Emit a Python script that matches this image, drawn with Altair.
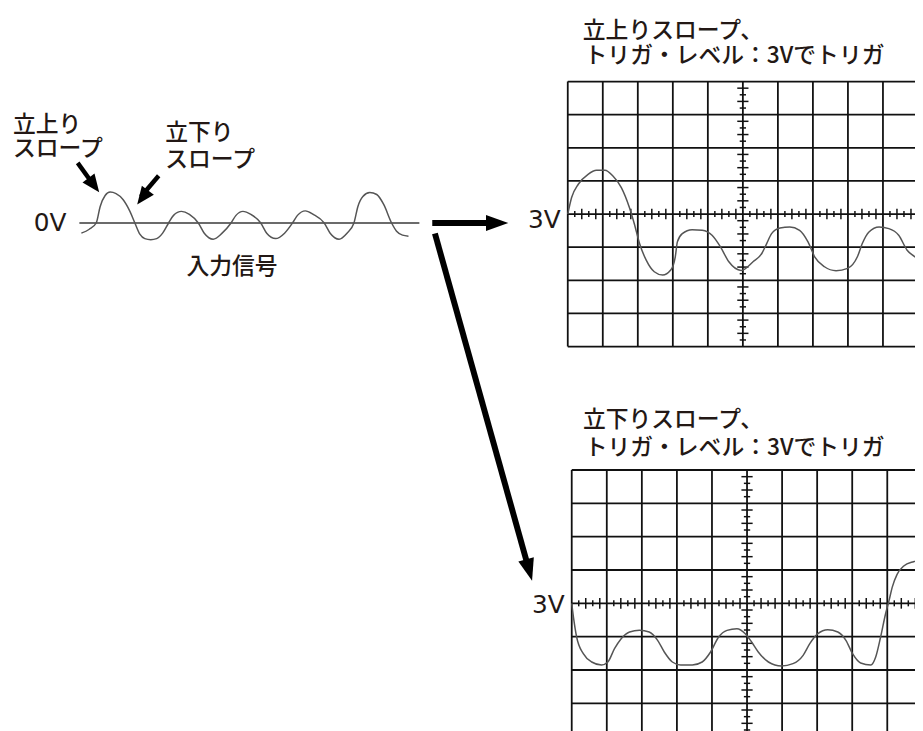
import altair as alt
import pandas as pd

# ---------------- values ----------------
# Input signal (left): time in arbitrary units, level in volts (0 V = baseline)
in_t = [0.2, 1.0, 1.7, 2.1, 2.6, 3.1, 3.7, 4.4, 5.1, 5.6, 6.1, 6.6, 7.2, 7.8, 8.4,
        9.0, 9.5, 10.3, 11.1, 12.0, 12.6, 13.5, 14.4, 15.3, 15.8, 16.5, 17.3, 18.3,
        18.9, 19.8, 20.7, 21.5, 22.0, 22.8, 23.6, 24.7, 25.3, 26.2, 27.0, 27.7, 28.1,
        28.6, 29.3, 30.0, 30.7, 31.5, 32.0, 32.6, 33.2]
in_v = [-1.63, -1.0, 0.0, 2.65, 4.4, 4.95, 4.71, 3.76, 1.86, 0.0, -1.79, -2.5, -2.67, -2.5, -1.63,
        0.0, 1.22, 1.86, 1.38, 0.0, -1.63, -2.59, -1.63, 0.0, 1.22, 1.86, 1.38, 0.0,
        -1.63, -2.5, -1.63, 0.0, 1.22, 1.94, 1.38, 0.0, -1.63, -2.59, -1.63, 0.0, 2.65,
        4.24, 4.87, 4.56, 2.97, 0.0, -1.32, -1.95, -2.11]

# Rising-slope triggered trace (screen divisions, 0 = 3 V line)
up_x = [0.0, 0.11, 0.30, 0.58, 0.82, 1.06, 1.29, 1.53, 1.76, 1.90, 2.05, 2.24, 2.47, 2.71,
        2.94, 3.07, 3.13, 3.27, 3.55, 3.84, 4.12, 4.36, 4.60, 4.95, 5.29, 5.54, 5.68, 5.82,
        6.06, 6.34, 6.62, 6.86, 7.05, 7.33, 7.66, 7.99, 8.27, 8.41, 8.60, 8.89, 9.17, 9.45,
        9.69, 9.91, 10.2]
up_y = [0.0, 0.5, 0.9, 1.2, 1.32, 1.32, 1.15, 0.8, 0.2, -0.29, -0.89, -1.39, -1.74, -1.84,
        -1.69, -1.29, -0.84, -0.59, -0.47, -0.49, -0.64, -0.99, -1.44, -1.70, -1.44, -1.19, -0.89, -0.59,
        -0.42, -0.39, -0.49, -0.84, -1.29, -1.59, -1.71, -1.64, -1.29, -0.89, -0.54, -0.39, -0.44, -0.64,
        -1.09, -1.29, -1.6]

# Falling-slope triggered trace (screen divisions)
dn_x = [0.0, 0.05, 0.14, 0.33, 0.57, 0.85, 1.03, 1.22, 1.41, 1.65, 1.93, 2.21, 2.45, 2.64,
        2.87, 3.11, 3.44, 3.72, 3.96, 4.19, 4.43, 4.71, 4.95, 5.13, 5.32, 5.61, 5.98, 6.31,
        6.60, 6.79, 7.02, 7.30, 7.59, 7.82, 8.01, 8.24, 8.53, 8.67, 8.81, 8.95, 9.05, 9.14,
        9.28, 9.47, 9.75, 10.1]
dn_y = [0.0, -0.42, -1.01, -1.51, -1.76, -1.85, -1.76, -1.36, -1.06, -0.86, -0.81, -0.86, -1.11, -1.46,
        -1.76, -1.85, -1.85, -1.76, -1.46, -1.01, -0.81, -0.76, -0.91, -1.16, -1.46, -1.76, -1.88, -1.81,
        -1.56, -1.21, -0.91, -0.79, -0.86, -1.11, -1.51, -1.79, -1.85, -1.61, -1.01, -0.32, 0.08, 0.48,
        0.87, 1.12, 1.25, 1.32]

# Text
left_labels = ["立上り", "スロープ", "立下り", "スロープ", "入力信号"]
zero_label = "0V"
level_label = "3V"
top_title = ["立上りスロープ、", "トリガ・レベル：3Vでトリガ"]
bot_title = ["立下りスロープ、", "トリガ・レベル：3Vでトリガ"]

# ---------------- layout / style ----------------
W, H = 915, 723
FONT = "Noto Sans CJK JP"
LATIN = "DejaVu Sans"
INK = "#231815"
FS = 23
FS_V = 25
FW = 500

IN_X = dict(domain=[0, 10], range=[72, 172])
IN_Y = dict(domain=[0, 10], range=[213.7, 150.7])
TOP_X = dict(domain=[0, 10], range=[564.7, 918.0])
TOP_Y = dict(domain=[-4, 4], range=[338.4, 71.0])
BOT_X = dict(domain=[0, 10], range=[568.7, 922.4])
BOT_Y = dict(domain=[-4, 4], range=[731.9, 462.9])


def sc(d):
    return alt.Scale(domain=d["domain"], range=d["range"], nice=False, zero=False)


def enc(xs, ys, x="x", y="y", x2=None, y2=None):
    e = dict(x=alt.X(f"{x}:Q", scale=sc(xs), axis=None),
             y=alt.Y(f"{y}:Q", scale=sc(ys), axis=None))
    if x2:
        e["x2"] = alt.X2(f"{x2}:Q")
    if y2:
        e["y2"] = alt.Y2(f"{y2}:Q")
    return e


layers = []

# ---- input signal panel ----
base_df = pd.DataFrame({"x": [0.0], "x2": [34.3], "y": [0.0], "y2": [0.0]})
layers.append(alt.Chart(base_df).mark_rule(color="#3a3a3a", strokeWidth=1.6)
              .encode(**enc(IN_X, IN_Y, x2="x2", y2="y2")))
in_df = pd.DataFrame({"x": in_t, "y": in_v})
layers.append(alt.Chart(in_df).mark_line(color="#555555", strokeWidth=1.5, interpolate="monotone")
              .encode(**enc(IN_X, IN_Y)))

lab_df = pd.DataFrame({"text": left_labels,
                       "x": [-6.7, -6.7, 8.67, 8.67, 10.8],
                       "y": [15.75, 11.86, 14.4, 10.1, -7.03]})
layers.append(alt.Chart(lab_df).mark_text(font=FONT, fontSize=FS, fontWeight=FW, color=INK,
                                          align="left", baseline="middle")
              .encode(text="text:N", **enc(IN_X, IN_Y)))
zero_df = pd.DataFrame({"text": [zero_label], "x": [-1.3], "y": [0.0]})
layers.append(alt.Chart(zero_df).mark_text(font=LATIN, fontSize=FS_V, color=INK, align="right",
                                           baseline="middle")
              .encode(text="text:N", **enc(IN_X, IN_Y)))

# arrows (in input-panel units)
shaft_df = pd.DataFrame({"x": [35.6, 35.87], "y": [0.0, -1.69],
                         "x2": [42.07, 45.37], "y2": [0.0, -55.6]})
layers.append(alt.Chart(shaft_df).mark_rule(color="black", strokeWidth=6, strokeCap="butt")
              .encode(**enc(IN_X, IN_Y, x2="x2", y2="y2")))
head_df = pd.DataFrame({"x": [43.27, 45.67], "y": [0.0, -57.3], "a": [90, 164.4]})
layers.append(alt.Chart(head_df).mark_point(shape="M0,0L0.36,1L-0.36,1Z", filled=True,
                                            color="black", opacity=1, size=4 * 22.5 ** 2,
                                            strokeWidth=0)
              .encode(angle=alt.Angle("a:Q", scale=None), **enc(IN_X, IN_Y)))

small_shaft = pd.DataFrame({"x": [-0.17, 8.0], "y": [9.63, 7.57],
                            "x2": [1.40, 6.20], "y2": [6.17, 4.20]})
layers.append(alt.Chart(small_shaft).mark_rule(color="black", strokeWidth=4.5, strokeCap="butt")
              .encode(**enc(IN_X, IN_Y, x2="x2", y2="y2")))
small_head = pd.DataFrame({"x": [2.0, 5.83], "y": [4.92, 2.97], "a": [143.2, 216.8]})
layers.append(alt.Chart(small_head).mark_point(shape="M0,0L0.42,1L-0.42,1Z", filled=True,
                                               color="black", opacity=1, size=4 * 18 ** 2,
                                               strokeWidth=0)
              .encode(angle=alt.Angle("a:Q", scale=None), **enc(IN_X, IN_Y)))


# ---- oscilloscope screens ----
def scope(XS, YS, tx, ty, title_x, title_y, title, label_y):
    out = []
    grid = ([{"x": i, "x2": i, "y": -4, "y2": 4} for i in range(11)] +
            [{"x": 0, "x2": 10, "y": j, "y2": j} for j in range(-4, 5)])
    out.append(alt.Chart(pd.DataFrame(grid)).mark_rule(color="#111111", strokeWidth=1.8)
               .encode(**enc(XS, YS, x2="x2", y2="y2")))
    ticks = []
    for k in range(1, 50):
        if k % 5:
            h = 0.16 if k % 5 in (2, 4) else 0.09
            ticks.append({"x": k * 0.2, "x2": k * 0.2, "y": -h, "y2": h})
    for k in range(1, 40):
        if k % 5:
            h = 0.16 if k % 5 in (2, 4) else 0.09
            ticks.append({"x": 5 - h, "x2": 5 + h, "y": -4 + k * 0.2, "y2": -4 + k * 0.2})
    out.append(alt.Chart(pd.DataFrame(ticks)).mark_rule(color="#111111", strokeWidth=1.5)
               .encode(**enc(XS, YS, x2="x2", y2="y2")))
    out.append(alt.Chart(pd.DataFrame({"x": tx, "y": ty}))
               .mark_line(color="#555555", strokeWidth=1.5, interpolate="monotone")
               .encode(**enc(XS, YS)))
    tdf = pd.DataFrame({"text": title, "x": [title_x, title_x + 0.05], "y": title_y})
    out.append(alt.Chart(tdf).mark_text(font=FONT, fontSize=FS, fontWeight=FW, color=INK,
                                        align="left", baseline="middle")
               .encode(text="text:N", **enc(XS, YS)))
    ldf = pd.DataFrame({"text": [level_label], "x": [-0.2], "y": [label_y]})
    out.append(alt.Chart(ldf).mark_text(font=LATIN, fontSize=FS_V, color=INK, align="right",
                                        baseline="middle")
               .encode(text="text:N", **enc(XS, YS)))
    return out


layers += scope(TOP_X, TOP_Y, up_x, up_y, 0.43, [5.52, 4.76], top_title, -0.19)
layers += scope(BOT_X, BOT_Y, dn_x, dn_y, 0.32, [5.50, 4.65], bot_title, -0.05)

chart = (alt.layer(*layers)
         .resolve_scale(x="independent", y="independent")
         .properties(width=W, height=H, padding=0, autosize="none", background="white")
         .configure_view(stroke=None))

chart.save("out.html", embed_options={"renderer": "svg", "actions": False})
